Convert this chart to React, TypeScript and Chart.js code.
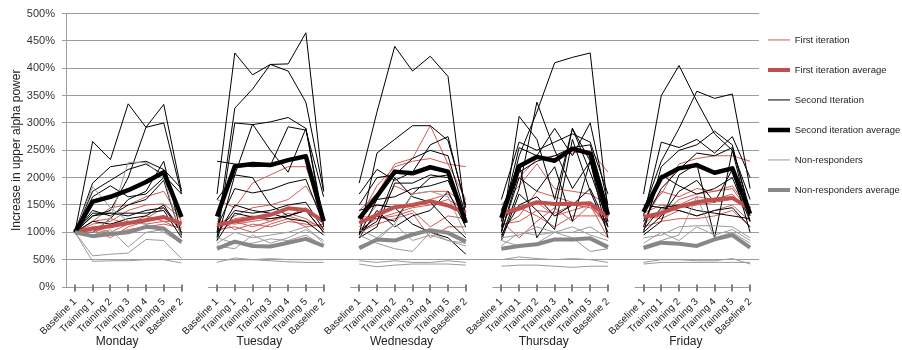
import React, { useEffect, useRef } from 'react';
import { Chart, registerables } from 'chart.js';

Chart.register(...registerables);

const FONT = '"Liberation Sans", Arial, sans-serif';

const days = ['Monday', 'Tuesday', 'Wednesday', 'Thursday', 'Friday'];
const sessions = ['Baseline 1', 'Training 1', 'Training 2', 'Training 3', 'Training 4', 'Training 5', 'Baseline 2'];

// Each row: Monday..Friday, 7 sessions per day (values in %)
const firstIteration: number[][] = [
  [100, 120, 145, 150, 165, 175, 120, 160, 145, 190, 205, 220, 220, 125, 140, 170, 225, 235, 295, 225, 160, 140, 200, 235, 240, 245, 250, 210, 140, 170, 225, 235, 240, 240, 230],
  [100, 115, 120, 140, 150, 152, 125, 115, 130, 145, 150, 160, 185, 130, 125, 185, 220, 230, 235, 225, 220, 150, 185, 225, 180, 175, 170, 150, 120, 175, 165, 180, 175, 185, 140],
  [100, 105, 90, 110, 120, 130, 115, 120, 115, 120, 125, 130, 145, 115, 120, 130, 185, 170, 175, 175, 150, 120, 90, 120, 145, 120, 150, 90, 115, 140, 150, 165, 160, 170, 130],
  [100, 110, 100, 115, 125, 145, 110, 100, 120, 110, 120, 130, 120, 110, 110, 150, 145, 150, 160, 170, 130, 110, 130, 175, 165, 155, 150, 110, 130, 125, 140, 130, 140, 150, 120],
  [100, 100, 115, 120, 115, 120, 105, 105, 110, 100, 115, 125, 110, 115, 105, 125, 130, 140, 110, 130, 125, 130, 140, 155, 130, 140, 150, 115, 110, 120, 125, 125, 130, 140, 110],
  [100, 120, 125, 115, 130, 120, 120, 110, 125, 130, 120, 135, 125, 105, 100, 115, 125, 135, 90, 110, 110, 125, 145, 130, 110, 130, 130, 130, 135, 150, 145, 150, 155, 160, 145],
  [100, 108, 95, 105, 110, 115, 108, 125, 105, 115, 110, 120, 115, 110, 130, 125, 135, 145, 150, 160, 140, 115, 120, 140, 135, 150, 145, 120, 125, 130, 160, 170, 175, 180, 135],
];
const firstIterationAverage: number[] = [
  100, 107, 111, 117, 122, 128, 115,
  113, 120, 126, 132, 144, 141, 120,
  117, 132, 146, 150, 157, 149, 135,
  134, 144, 155, 152, 152, 153, 128,
  128, 135, 147, 155, 160, 163, 143,
];

const secondIteration: number[][] = [
  [100, 266, 233, 335, 292, 334, 175, 170, 428, 388, 407, 408, 465, 175, 190, 320, 440, 395, 422, 385, 125, 110, 240, 320, 410, 420, 428, 140, 170, 350, 405, 340, 280, 250, 160],
  [100, 130, 140, 200, 292, 300, 170, 100, 327, 362, 407, 395, 338, 175, 95, 245, 270, 295, 295, 268, 150, 100, 312, 270, 160, 290, 230, 120, 140, 230, 290, 358, 345, 353, 180],
  [100, 190, 220, 225, 230, 215, 180, 90, 300, 297, 302, 310, 290, 120, 170, 215, 195, 210, 260, 275, 145, 90, 180, 338, 250, 180, 230, 110, 130, 265, 255, 270, 245, 275, 200],
  [100, 175, 195, 215, 225, 205, 170, 85, 205, 298, 250, 210, 290, 110, 150, 200, 205, 235, 250, 240, 130, 120, 255, 240, 290, 240, 300, 150, 100, 220, 250, 260, 285, 260, 130],
  [100, 165, 185, 165, 170, 200, 130, 230, 225, 220, 222, 293, 287, 165, 90, 110, 190, 190, 205, 200, 130, 160, 265, 250, 265, 280, 265, 170, 110, 205, 185, 170, 180, 200, 120],
  [100, 135, 135, 130, 140, 145, 100, 160, 205, 200, 150, 130, 140, 100, 100, 120, 200, 165, 155, 120, 90, 140, 225, 90, 140, 290, 210, 120, 95, 120, 205, 225, 90, 250, 120],
  [100, 130, 135, 135, 135, 140, 90, 110, 180, 172, 178, 190, 197, 115, 140, 150, 145, 115, 100, 90, 60, 100, 200, 175, 220, 120, 230, 90, 105, 145, 150, 140, 135, 130, 125],
  [100, 100, 125, 160, 175, 230, 95, 100, 140, 135, 140, 150, 155, 105, 90, 140, 110, 130, 140, 175, 110, 95, 150, 165, 130, 150, 180, 110, 150, 145, 140, 130, 140, 145, 110],
  [100, 140, 130, 150, 160, 195, 90, 85, 135, 128, 125, 130, 140, 100, 100, 130, 120, 170, 200, 205, 120, 85, 170, 140, 105, 270, 175, 100, 100, 130, 175, 195, 155, 215, 100],
  [100, 120, 115, 125, 130, 150, 100, 95, 150, 140, 135, 125, 120, 95, 95, 160, 165, 180, 185, 195, 120, 100, 210, 230, 240, 255, 260, 145, 120, 180, 215, 245, 240, 255, 140],
];
const secondIterationAverage: number[] = [
  100, 156, 165, 177, 192, 210, 128,
  129, 221, 225, 223, 232, 239, 120,
  125, 166, 211, 208, 219, 211, 117,
  126, 221, 238, 231, 253, 244, 132,
  137, 200, 217, 223, 209, 217, 134,
];

const nonResponders: number[][] = [
  [100, 57, 60, 62, 87, 85, 52, 45, 53, 50, 48, 46, 45, 45, 48, 45, 48, 45, 45, 48, 45, 50, 55, 52, 50, 52, 50, 45, 45, 50, 50, 48, 48, 52, 42],
  [100, 47, 48, 48, 50, 50, 44, 50, 50, 50, 52, 50, 50, 50, 42, 37, 40, 42, 42, 42, 40, 38, 40, 40, 38, 36, 38, 38, 42, 45, 45, 45, 45, 45, 45],
  [100, 183, 145, 120, 115, 100, 80, 75, 70, 95, 80, 90, 105, 85, 95, 80, 70, 65, 100, 85, 75, 85, 75, 80, 100, 90, 65, 70, 80, 100, 85, 110, 95, 105, 85],
  [100, 95, 105, 73, 100, 105, 85, 80, 100, 90, 95, 100, 110, 80, 105, 90, 115, 170, 175, 165, 95, 90, 95, 110, 100, 110, 95, 85, 90, 95, 110, 112, 112, 110, 90],
  [100, 100, 125, 228, 228, 200, 90, 90, 80, 80, 88, 85, 95, 75, 75, 85, 115, 85, 95, 85, 80, 75, 100, 95, 100, 100, 110, 90, 75, 85, 95, 165, 90, 100, 80],
];
const nonRespondersAverage: number[] = [
  100, 93, 97, 100, 110, 107, 82,
  70, 83, 75, 74, 81, 88, 75,
  71, 87, 85, 96, 104, 99, 83,
  70, 75, 78, 87, 87, 89, 73,
  71, 81, 79, 75, 87, 95, 72,
];

const RED = '#cf5a56';
const RED_AVG = '#c0504d';
const BLACK = '#000000';
const GRAY = '#9a9a9a';
const GRAY_AVG = '#878787';

// build category axis with a blank slot between days
const xLabels: string[] = [];
const dayLabels: string[] = [];
days.forEach((d, i) => {
  sessions.forEach((s, j) => {
    xLabels.push(s);
    dayLabels.push(j === 3 ? d : '');
  });
  if (i < days.length - 1) {
    xLabels.push('');
    dayLabels.push('');
  }
});

function expand(row: number[]): (number | null)[] {
  const out: (number | null)[] = [];
  days.forEach((_, i) => {
    out.push(...row.slice(i * 7, i * 7 + 7));
    if (i < days.length - 1) out.push(null);
  });
  return out;
}

const groups = [
  { label: 'First iteration', rows: firstIteration, color: RED, width: 1, avg: false },
  { label: 'First iteration average', rows: [firstIterationAverage], color: RED_AVG, width: 4, avg: true },
  { label: 'Second Iteration', rows: secondIteration, color: BLACK, width: 1, avg: false },
  { label: 'Second iteration average', rows: [secondIterationAverage], color: BLACK, width: 4.5, avg: true },
  { label: 'Non-responders', rows: nonResponders, color: GRAY, width: 1, avg: false },
  { label: 'Non-responders average', rows: [nonRespondersAverage], color: GRAY_AVG, width: 4, avg: true },
];

const groupAxisPlugin = {
  id: 'groupAxis',
  beforeDatasetsDraw(chart: any) {
    const xs = chart.scales.x;
    const ys = chart.scales.y;
    const ctx = chart.ctx;
    const y0 = Math.round(ys.getPixelForValue(0)) + 0.5;
    const half = (xs.getPixelForValue(1) - xs.getPixelForValue(0)) / 2;
    ctx.save();
    days.forEach((_, d) => {
      const first = d * 8;
      const last = first + 6;
      ctx.strokeStyle = '#9a9a9a';
      ctx.lineWidth = 1;
      ctx.beginPath();
      ctx.moveTo(xs.getPixelForValue(first) - half, y0);
      ctx.lineTo(xs.getPixelForValue(last) + 1, y0);
      ctx.stroke();
      ctx.strokeStyle = '#808080';
      ctx.lineWidth = 2;
      for (let i = first; i <= last; i++) {
        const px = Math.round(xs.getPixelForValue(i));
        ctx.beginPath();
        ctx.moveTo(px, y0 - 3);
        ctx.lineTo(px, y0 + 4);
        ctx.stroke();
      }
    });
    ctx.restore();
  },
};

// pull the legend items closer to the plot (keep right edge for clipping)
const legendShiftPlugin = {
  id: 'legendShift',
  afterLayout(chart: any) {
    if (chart.legend) {
      chart.legend.left -= 11.5;
    }
  },
};

export default function App() {
  const ref = useRef<HTMLCanvasElement>(null);

  useEffect(() => {
    if (!ref.current) return;
    const datasets: any[] = [];
    let idx = 0;
    let avgIdx = 0;
    groups.forEach((g) => {
      g.rows.forEach((row) => {
        datasets.push({
          label: g.label,
          data: expand(row),
          borderColor: g.color,
          backgroundColor: g.color,
          borderWidth: g.width,
          pointRadius: 0,
          pointHoverRadius: 0,
          fill: false,
          tension: 0,
          spanGaps: false,
          borderJoinStyle: g.avg ? 'round' : 'miter',
          order: g.avg ? -1000 - avgIdx++ : -idx++,
        });
      });
    });

    const chart = new Chart(ref.current, {
      type: 'line',
      data: { labels: xLabels, datasets },
      plugins: [groupAxisPlugin, legendShiftPlugin],
      options: {
        responsive: false,
        animation: false,
        devicePixelRatio: 1,
        layout: { padding: { top: 10, left: 0, right: 0, bottom: 0 } },
        plugins: {
          tooltip: { enabled: false },
          legend: {
            position: 'right',
            align: 'start',
            maxWidth: 143,
            title: { display: true, text: ' ', font: { size: 1 }, padding: { top: 3.5, bottom: 0 } },
            labels: {
              usePointStyle: true,
              pointStyleWidth: 22,
              padding: 20.5,
              color: '#222',
              font: { family: FONT, size: 9.5 },
              generateLabels: () =>
                groups.map((g, i) => ({
                  text: g.label,
                  strokeStyle: g.color,
                  fillStyle: g.color,
                  lineWidth: g.width,
                  pointStyle: 'line',
                  hidden: false,
                  fontColor: '#222',
                  datasetIndex: i,
                })),
            },
          },
        },
        scales: {
          x: {
            type: 'category',
            position: 'bottom',
            offset: true,
            weight: 0,
            grid: { display: false, drawTicks: false },
            border: { display: false },
            ticks: {
              autoSkip: false,
              maxRotation: 45,
              minRotation: 45,
              padding: 9,
              color: '#222',
              font: { family: FONT, size: 10 },
            },
            afterFit: (s: any) => {
              s.height = 47;
            },
          },
          day: {
            type: 'category',
            position: 'bottom',
            labels: dayLabels,
            offset: true,
            weight: 1,
            grid: { display: false, drawTicks: false },
            border: { display: false },
            ticks: {
              autoSkip: false,
              maxRotation: 0,
              minRotation: 0,
              padding: 0,
              labelOffset: -11,
              color: '#222',
              font: { family: FONT, size: 12 },
            },
            afterFit: (s: any) => {
              s.height = 16;
            },
          },
          y: {
            min: 0,
            max: 500,
            border: { display: true, color: '#a0a0a0', width: 1 },
            grid: {
              color: (c: any) => (c.tick && c.tick.value === 0 ? 'rgba(0,0,0,0)' : '#9c9c9c'),
              tickColor: '#9c9c9c',
              tickLength: 4,
              lineWidth: 1,
            },
            ticks: {
              stepSize: 50,
              padding: 7,
              color: '#333',
              font: { family: FONT, size: 11 },
              callback: (v: any) => v + '%',
            },
            title: {
              display: true,
              text: 'Increase in upper alpha power',
              color: '#222',
              font: { family: FONT, size: 12 },
              padding: { top: 9, bottom: 0 },
            },
            afterFit: (s: any) => {
              s.width = 66;
            },
          },
        },
      } as any,
    });
    return () => chart.destroy();
  }, []);

  return (
    <div style={{ position: 'absolute', left: 0, top: 0, width: 902, height: 350, background: '#fff' }}>
      <canvas ref={ref} width={902} height={350} style={{ display: 'block', width: 902, height: 350 }} />
    </div>
  );
}
